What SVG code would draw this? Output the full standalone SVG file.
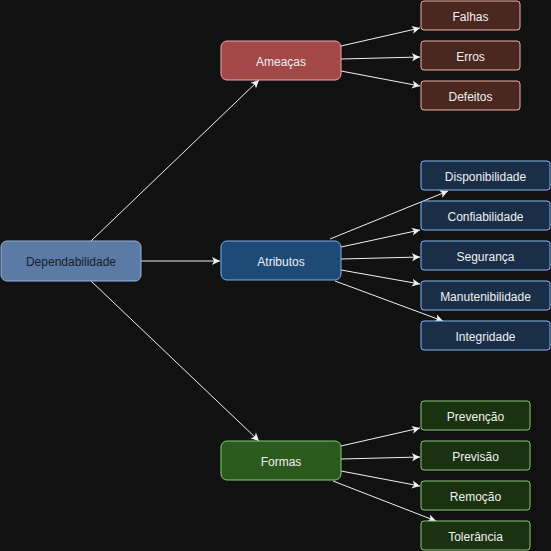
<svg xmlns="http://www.w3.org/2000/svg" width="551" height="551" viewBox="0 0 551 551">
<defs>
<marker id="arr" markerWidth="10" markerHeight="10" refX="9" refY="5" orient="auto" markerUnits="userSpaceOnUse">
<path d="M1,1 L9,5 L1,9 L3,5 Z" fill="#f0f0f0"/>
</marker>
<style>
text{font-family:"Liberation Sans",Arial,sans-serif;font-size:12px;text-anchor:middle;dominant-baseline:central;fill:#f0f0f0}
.e{stroke:#f0f0f0;stroke-width:1;fill:none;marker-end:url(#arr)}
.root rect{fill:#5b7aa5;stroke:#9ab4d8}
.root text{fill:#1a1a2a}
.red rect{fill:#a24848;stroke:#f0a8a8}
.redc rect{fill:#4a2820;stroke:#f0b0a8}
.blue rect{fill:#1e4a78;stroke:#7ab4e8}
.bluec rect{fill:#1a2e48;stroke:#80b8f0}
.green rect{fill:#2a5a1e;stroke:#88c878}
.greenc rect{fill:#1a3210;stroke:#88c878}
</style>
</defs>
<rect width="551" height="551" fill="#111111"/>
<g id="connectors">
<line class="e" x1="91" y1="241" x2="259" y2="80"/>
<line class="e" x1="141" y1="261" x2="220" y2="261"/>
<line class="e" x1="91" y1="281" x2="259" y2="441"/>
<line class="e" x1="341" y1="46" x2="420" y2="28"/>
<line class="e" x1="341" y1="59" x2="420" y2="57"/>
<line class="e" x1="341" y1="71" x2="420" y2="86"/>
<line class="e" x1="330" y1="239" x2="448" y2="191"/>
<line class="e" x1="341" y1="247" x2="420" y2="230"/>
<line class="e" x1="341" y1="259" x2="420" y2="257"/>
<line class="e" x1="341" y1="270" x2="420" y2="284"/>
<line class="e" x1="335" y1="281" x2="443" y2="321"/>
<line class="e" x1="341" y1="446" x2="420" y2="428"/>
<line class="e" x1="341" y1="459" x2="420" y2="457"/>
<line class="e" x1="341" y1="471" x2="420" y2="486"/>
<line class="e" x1="333" y1="481" x2="436" y2="521"/>
</g>
<g id="dependabilidade" class="root"><rect x="1" y="241" width="140" height="40" rx="6"/><text x="71" y="262">Dependabilidade</text></g>
<g id="ameacas" class="red"><rect x="221" y="41" width="120" height="39" rx="6"/><text x="281" y="62">Ameaças</text></g>
<g id="falhas" class="redc"><rect x="421" y="1" width="99" height="29" rx="3"/><text x="470.5" y="17">Falhas</text></g>
<g id="erros" class="redc"><rect x="421" y="41" width="99" height="29" rx="3"/><text x="470.5" y="57">Erros</text></g>
<g id="defeitos" class="redc"><rect x="421" y="81" width="99" height="29" rx="3"/><text x="470.5" y="97">Defeitos</text></g>
<g id="atributos" class="blue"><rect x="221" y="241" width="120" height="39" rx="6"/><text x="281" y="262">Atributos</text></g>
<g id="disponibilidade" class="bluec"><rect x="421" y="161" width="129" height="29" rx="3"/><text x="485.5" y="177">Disponibilidade</text></g>
<g id="confiabilidade" class="bluec"><rect x="421" y="201" width="129" height="29" rx="3"/><text x="485.5" y="217">Confiabilidade</text></g>
<g id="seguranca" class="bluec"><rect x="421" y="241" width="129" height="29" rx="3"/><text x="485.5" y="257">Segurança</text></g>
<g id="manutenibilidade" class="bluec"><rect x="421" y="281" width="129" height="29" rx="3"/><text x="485.5" y="297">Manutenibilidade</text></g>
<g id="integridade" class="bluec"><rect x="421" y="321" width="129" height="29" rx="3"/><text x="485.5" y="337">Integridade</text></g>
<g id="formas" class="green"><rect x="221" y="441" width="120" height="39" rx="6"/><text x="281" y="462">Formas</text></g>
<g id="prevencao" class="greenc"><rect x="421" y="401" width="109" height="29" rx="3"/><text x="475.5" y="417">Prevenção</text></g>
<g id="previsao" class="greenc"><rect x="421" y="441" width="109" height="29" rx="3"/><text x="475.5" y="457">Previsão</text></g>
<g id="remocao" class="greenc"><rect x="421" y="481" width="109" height="29" rx="3"/><text x="475.5" y="497">Remoção</text></g>
<g id="tolerancia" class="greenc"><rect x="421" y="521" width="109" height="29" rx="3"/><text x="475.5" y="537">Tolerância</text></g>
</svg>
